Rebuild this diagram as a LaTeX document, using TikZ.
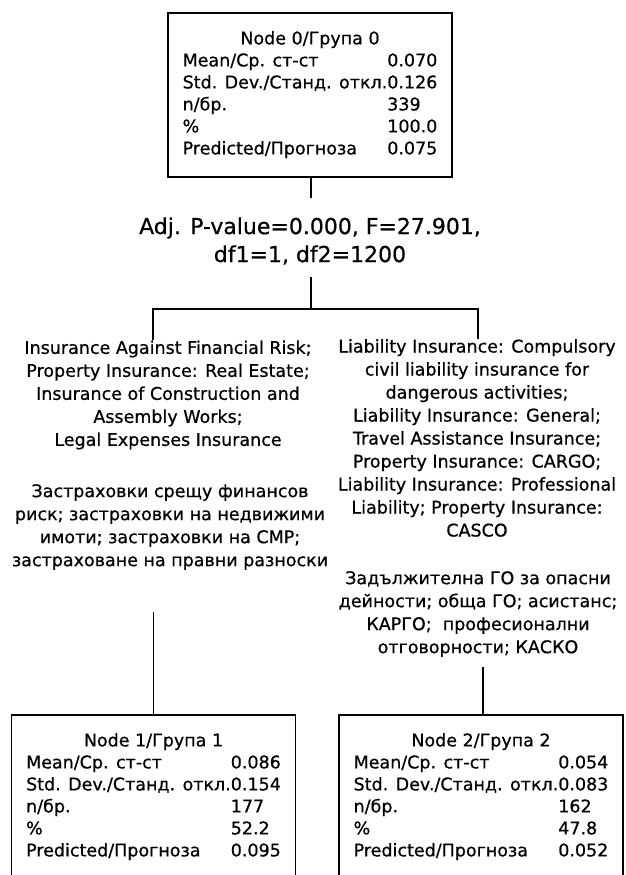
\documentclass[tikz,border=0pt]{standalone}
\usepackage{fontspec}
\setmainfont[FakeBold=0.6]{DejaVu Sans}
\newcommand\statstab[6]{%
  \begin{tabular}{@{}l@{}l@{}}
  \multicolumn{2}{@{}c@{}}{Node #1/Група #1}\\
  Mean/Ср. ст-ст & #2\\
  Std. Dev./Станд. откл. & #3\\
  n/бр. & #4\\
  \% & #5\\
  Predicted/Прогноза & #6
  \end{tabular}}
\begin{document}
\begin{tikzpicture}[x=1pt,y=-1pt,
  statbox/.style={draw, line width=1.6pt, minimum width=284pt, minimum height=164pt,
    inner xsep=11pt, inner ysep=0pt, font=\fontsize{17.5}{22}\selectfont},
  branchtext/.style={align=center, inner sep=0pt, font=\fontsize{17.5}{23}\selectfont},
  testtext/.style={align=center, inner sep=0pt, font=\fontsize{22}{28}\selectfont},
  conn/.style={line width=1.6pt}]
\useasboundingbox (0,0) rectangle (625,875);
\fill[white] (0,0) rectangle (625,875);

\node[statbox] (n0) at (310,95) {\statstab{0}{0.070}{0.126}{339}{100.0}{0.075}};
\node[testtext] (test) at (310,241) {Adj. P-value=0.000, F=27.901,\\df1=1, df2=1200};

\node[branchtext] (le) at (168,395) {Insurance Against Financial Risk;\\Property Insurance: Real Estate;\\Insurance of Construction and\\Assembly Works;\\Legal Expenses Insurance};
\node[branchtext] (lbg) at (170,527) {Застраховки срещу финансов\\риск; застраховки на недвижими\\имоти; застраховки на СМР;\\застраховане на правни разноски};

\node[branchtext] (re) at (477,438) {Liability Insurance: Compulsory\\civil liability insurance for\\dangerous activities;\\Liability Insurance: General;\\Travel Assistance Insurance;\\Property Insurance: CARGO;\\Liability Insurance: Professional\\Liability; Property Insurance:\\CASCO};
\node[branchtext] (rbg) at (478,614) {Задължителна ГО за опасни\\дейности; обща ГО; асистанс;\\КАРГО;\ \ професионални\\отговорности; КАСКО};

\node[statbox] (n1) at (153.5,797) {\statstab{1}{0.086}{0.154}{177}{52.2}{0.095}};
\node[statbox] (n2) at (481,797) {\statstab{2}{0.054}{0.083}{162}{47.8}{0.052}};

\coordinate (t1) at (311,198);
\coordinate (t2) at (311,277);
\coordinate (split) at (311,309);
\coordinate (lft) at (153,309);
\coordinate (rgt) at (478,309);
\coordinate (ldrop) at (153.5,612);
\coordinate (rdrop) at (483,667);

\draw[conn] (n0.south -| t1) -- (t1);
\draw[conn] (t2) -- (split);
\draw[conn] (lft |- le.north) -- (lft) -- (rgt) -- (rgt |- re.north);
\draw[conn] (ldrop) -- (ldrop |- n1.north);
\draw[conn] (rdrop) -- (rdrop |- n2.north);
\end{tikzpicture}
\end{document}
